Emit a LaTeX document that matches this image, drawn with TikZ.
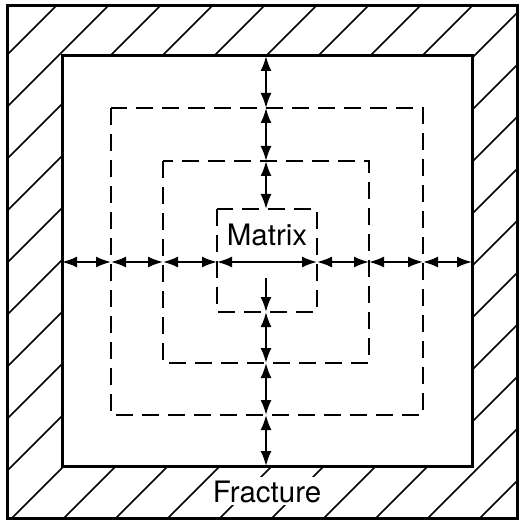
\documentclass[tikz,border=0pt]{standalone}
\usepackage{fontspec}
\setmainfont{TeX Gyre Heros}
\usetikzlibrary{arrows.meta}
\begin{document}
\begin{tikzpicture}[x=1pt,y=-1pt,
  frame/.style={line width=3pt},
  zone/.style={line width=2.5pt, dash pattern=on 17pt off 9pt},
  hatch/.style={line width=1.7pt},
  tipb/.tip={Latex[length=15pt,width=11pt]},
  dim/.style={line width=2pt, tipb-tipb},
  dimone/.style={line width=2pt, -tipb},
  lbl/.style={font=\fontsize{29.5}{32}\selectfont, inner sep=3pt}]
\useasboundingbox (0,0) rectangle (520,521);
% hatched fracture zone
\begin{scope}[even odd rule]
  \clip (7,6) rectangle (517,518) (62,56) rectangle (472,466);
  \foreach \k in {0,...,18} { \draw[hatch] ({62+52*\k},0) -- (0,{62+52*\k}); }
\end{scope}
\draw[frame] (7,6) rectangle (517,518);
\draw[frame] (62,56) rectangle (472,466);
% dashed zones
\draw[zone] (111,108) rectangle (423,415);
\draw[zone] (163,161) rectangle (369,363);
\draw[zone] (217,209) rectangle (317,312);
% labels
\node[lbl, fill=white, anchor=base] (frac) at (267,502) {Fracture};
\node[lbl, anchor=base] (mat) at (267,245) {Matrix};
% coordinates
\coordinate (v0) at (266,56);
\coordinate (v1) at (266,108);
\coordinate (v2) at (266,161);
\coordinate (v3) at (266,209);
\coordinate (vs) at (266,278);
\coordinate (v4) at (266,312);
\coordinate (v5) at (266,363);
\coordinate (v6) at (266,415);
\coordinate (v7) at (266,466);
\coordinate (h0) at (62,262);
\coordinate (h1) at (111,262);
\coordinate (h2) at (163,262);
\coordinate (h3) at (217,262);
\coordinate (h4) at (317,262);
\coordinate (h5) at (369,262);
\coordinate (h6) at (423,262);
\coordinate (h7) at (472,262);
% arrows
\draw[dim] (v0) -- (v1);
\draw[dim] (v1) -- (v2);
\draw[dim] (v2) -- (v3);
\draw[dimone] (vs) -- (v4);
\draw[dim] (v4) -- (v5);
\draw[dim] (v5) -- (v6);
\draw[dim] (v6) -- (v7);
\draw[dim] (h0) -- (h1);
\draw[dim] (h1) -- (h2);
\draw[dim] (h2) -- (h3);
\draw[dim] (h3) -- (h4);
\draw[dim] (h4) -- (h5);
\draw[dim] (h5) -- (h6);
\draw[dim] (h6) -- (h7);
\end{tikzpicture}
\end{document}
